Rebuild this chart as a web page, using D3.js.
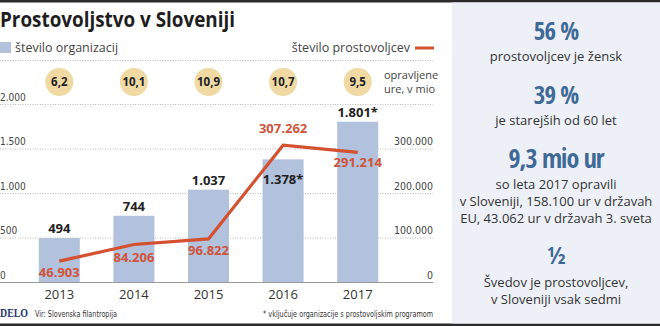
<!DOCTYPE html>
<html><head><meta charset="utf-8">
<script src="https://cdn.jsdelivr.net/npm/d3@7"></script>
<style>
html,body{margin:0;padding:0;background:#fff;}
svg{display:block;}
text{font-family:"Open Sans","Noto Sans",sans-serif;}
.narrow{font-family:"Liberation Sans Narrow","Arial Narrow","DejaVu Sans Condensed",sans-serif;}
</style></head>
<body>
<svg id="c" width="660" height="326"></svg>
<script>
const years = ["2013","2014","2015","2016","2017"];
const organizations = [494, 744, 1037, 1378, 1801];
const orgLabels = ["494","744","1.037","1.378*","1.801*"];
const volunteers = [46903, 84206, 96822, 307262, 291214];
const volLabels = ["46.903","84.206","96.822","307.262","291.214"];
const hours = ["6,2","10,1","10,9","10,7","9,5"];
const leftTicks = [0, 500, 1000, 1500, 2000];
const rightTicks = [0, 100000, 200000, 300000];
const fmt = v => d3.format(",")(v).replace(/,/g, ".");

const svg = d3.select("#c");
const W = 660, H = 326;
const plotRight = 433;

// frame lines
svg.append("rect").attr("x",0).attr("y",0).attr("width",W).attr("height",2.5).attr("fill","#2b2b2b");
svg.append("rect").attr("x",0).attr("y",H-2.5).attr("width",W).attr("height",2.5).attr("fill","#2b2b2b");

// title
svg.append("text").attr("x",0).attr("y",27).attr("font-size",21).attr("font-weight",700)
  .attr("fill","#1e1e1e").attr("textLength",235).attr("lengthAdjust","spacingAndGlyphs")
  .text("Prostovoljstvo v Sloveniji");

// legend
svg.append("rect").attr("x",0).attr("y",42).attr("width",11).attr("height",11).attr("fill","#b2c1dc");
svg.append("text").attr("x",15).attr("y",52).attr("font-size",12.5).attr("fill","#444").text("število organizacij");
svg.append("text").attr("x",410).attr("y",52).attr("font-size",12.5).attr("fill","#444").attr("text-anchor","end").text("število prostovoljcev");
svg.append("line").attr("x1",415).attr("x2",434).attr("y1",48).attr("y2",48).attr("stroke","#d4502e").attr("stroke-width",3);
svg.append("line").attr("x1",0).attr("x2",plotRight).attr("y1",60.5).attr("y2",60.5)
  .attr("stroke","#bbb").attr("stroke-dasharray","1,1.5");

// scales
const x = d3.scaleBand().domain(years).range([22, 395]).paddingInner(0.45).paddingOuter(0.225);
const yL = d3.scaleLinear().domain([0, 2000]).range([282, 104]);
const yR = d3.scaleLinear().domain([0, 400000]).range([282, 104]);

// gridlines + left labels
const gl = svg.append("g").attr("class","narrow")
  .call(d3.axisRight(yL).tickValues(leftTicks).tickSize(plotRight).tickFormat(fmt));
gl.select(".domain").remove();
gl.selectAll(".tick line").attr("stroke", d => d === 0 ? "#999" : "#bbb")
  .attr("stroke-dasharray", d => d === 0 ? null : "1,1.5");
gl.selectAll(".tick text").attr("x",0).attr("dy",-4).attr("text-anchor","start")
  .attr("font-size",10).attr("fill","#444").style("font-family","inherit");

// right labels
const gr = svg.append("g").attr("class","narrow").attr("transform",`translate(${plotRight},0)`)
  .call(d3.axisLeft(yR).tickValues(rightTicks).tickSize(0).tickFormat(fmt));
gr.select(".domain").remove();
gr.selectAll(".tick text").attr("x",0).attr("dy",-4).attr("text-anchor","end")
  .attr("font-size",10.5).attr("fill","#444").style("font-family","inherit");

// bars
svg.append("g").selectAll("rect").data(organizations).join("rect")
  .attr("x",(d,i)=>x(years[i])).attr("width",x.bandwidth())
  .attr("y",d=>yL(d)).attr("height",d=>yL(0)-yL(d)).attr("fill","#b2c1dc");

// bar labels
svg.append("g").selectAll("text").data(organizations).join("text")
  .attr("x",(d,i)=>x(years[i])+x.bandwidth()/2)
  .attr("y",(d,i)=> i===3 ? yL(d)+25 : yL(d)-5)
  .attr("text-anchor","middle").attr("font-size",13).attr("font-weight",700).attr("fill","#222")
  .text((d,i)=>orgLabels[i]);

// line
const line = d3.line().x((d,i)=>x(years[i])+x.bandwidth()/2).y(d=>yR(d));
svg.append("path").datum(volunteers).attr("d",line).attr("fill","none")
  .attr("stroke","#d4502e").attr("stroke-width",3.2).attr("stroke-linejoin","miter");

// line labels
const volOff = [16, 17, 16, -12, 15];
svg.append("g").selectAll("text").data(volunteers).join("text")
  .attr("x",(d,i)=>x(years[i])+x.bandwidth()/2)
  .attr("y",(d,i)=>yR(d)+volOff[i])
  .attr("text-anchor","middle").attr("font-size",13).attr("font-weight",700).attr("fill","#cf533a")
  .text((d,i)=>volLabels[i]);

// hour circles
const hc = svg.append("g").selectAll("g").data(hours).join("g")
  .attr("transform",(d,i)=>`translate(${x(years[i])+x.bandwidth()/2},82)`);
hc.append("circle").attr("r",14).attr("fill","#f0d9a3");
hc.append("text").attr("text-anchor","middle").attr("dy",4).attr("font-size",11.5)
  .attr("font-weight",700).attr("fill","#222").text(d=>d);
svg.append("text").attr("x",384).attr("y",79).attr("font-size",11).attr("fill","#444").text("opravljene");
svg.append("text").attr("x",384).attr("y",93).attr("font-size",11).attr("fill","#444").text("ure, v mio");

// x axis labels
const gx = svg.append("g").attr("transform","translate(0,282)")
  .call(d3.axisBottom(x).tickSize(0).tickPadding(0));
gx.select(".domain").remove();
gx.selectAll(".tick text").attr("y",17).attr("dy",0).attr("font-size",13).attr("fill","#333")
  .style("font-family","'Open Sans','Noto Sans',sans-serif");

// footer
svg.append("text").attr("x",0).attr("y",317).attr("font-size",12).attr("font-weight",700)
  .attr("textLength",28).attr("lengthAdjust","spacingAndGlyphs")
  .style("font-family","'Liberation Serif','DejaVu Serif',serif").attr("fill","#1d3a72").text("DELO");
svg.append("text").attr("class","narrow").attr("x",35).attr("y",317).attr("font-size",9.5).attr("fill","#333")
  .attr("textLength",82).attr("lengthAdjust","spacingAndGlyphs")
  .text("Vir: Slovenska filantropija");
svg.append("text").attr("class","narrow").attr("x",plotRight).attr("y",317).attr("font-size",9.5)
  .attr("text-anchor","end").attr("fill","#333")
  .attr("textLength",170).attr("lengthAdjust","spacingAndGlyphs")
  .text("* vključuje organizacije s prostovoljskim programom");

// right panel
svg.append("rect").attr("x",452).attr("y",2.5).attr("width",208).attr("height",H-5).attr("fill","#edf1f7");
const cx = 556;
const big = [
  {t:"56 %", y:40, s:25},
  {t:"39 %", y:104, s:25},
  {t:"9,3 mio ur", y:168, s:26},
  {t:"½", y:264, s:24}
];
const small = [
  {t:"prostovoljcev je žensk", y:61},
  {t:"je starejših od 60 let", y:125},
  {t:"so leta 2017 opravili", y:189},
  {t:"v Sloveniji, 158.100 ur v državah", y:206},
  {t:"EU, 43.062 ur v državah 3. sveta", y:223},
  {t:"Švedov je prostovoljcev,", y:287},
  {t:"v Sloveniji vsak sedmi", y:304}
];
svg.append("g").selectAll("text").data(big).join("text")
  .attr("x",cx).attr("y",d=>d.y).attr("text-anchor","middle").attr("font-size",d=>d.s)
  .attr("font-weight",700).attr("fill","#3f6a98")
  .style("font-family","'Open Sans Condensed','Roboto Condensed','Open Sans',sans-serif")
  .attr("letter-spacing",-1).text(d=>d.t);
svg.append("g").selectAll("text").data(small).join("text")
  .attr("x",cx).attr("y",d=>d.y).attr("text-anchor","middle").attr("font-size",13)
  .attr("fill","#333").text(d=>d.t);
</script>
</body></html>
